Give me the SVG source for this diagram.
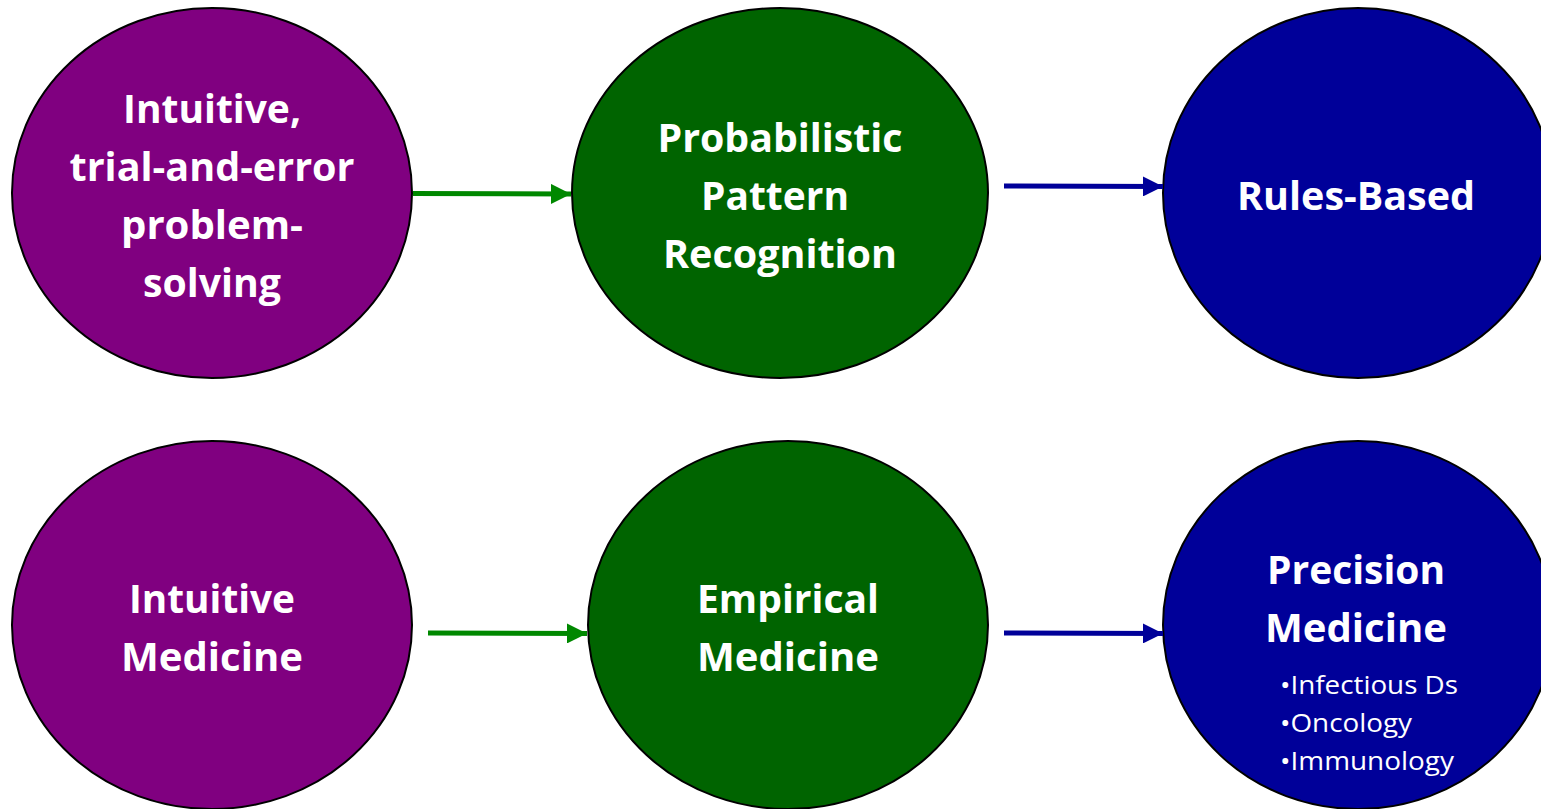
<svg xmlns="http://www.w3.org/2000/svg" width="1541" height="809" viewBox="0 0 1541 809">
<defs>
<style>
.node{stroke:#000;stroke-width:2}
.p{fill:#800080}.g{fill:#006400}.b{fill:#000099}
.t{font-family:"Open Sans","Liberation Sans",sans-serif;font-weight:bold;font-size:40px;fill:#fff;text-anchor:middle}
.s{font-family:"Open Sans","Liberation Sans",sans-serif;font-size:25px;fill:#fff}
.ga{stroke:#008800;stroke-width:5;fill:none}
.ba{stroke:#000099;stroke-width:5;fill:none}
</style>
<marker id="mg" markerWidth="6" markerHeight="6" refX="6" refY="3" orient="auto" markerUnits="userSpaceOnUse" viewBox="0 0 6 6"><path d="M0,0 L6,3 L0,6 Z" fill="#008800"/></marker>
<marker id="mb" markerWidth="6" markerHeight="6" refX="6" refY="3" orient="auto" viewBox="0 0 6 6"><path d="M0,0 L6,3 L0,6 Z" fill="#000099"/></marker>
<marker id="mg2" markerWidth="4" markerHeight="4" refX="4" refY="2" orient="auto" viewBox="0 0 4 4"><path d="M0,0 L4,2 L0,4 Z" fill="#008800"/></marker>
<marker id="mb2" markerWidth="4" markerHeight="4" refX="4" refY="2" orient="auto" viewBox="0 0 4 4"><path d="M0,0 L4,2 L0,4 Z" fill="#000099"/></marker>
</defs>
<rect width="1541" height="809" fill="#fff"/>
<g id="n1"><ellipse class="node p" cx="212" cy="193" rx="200" ry="185"/>
<text class="t"><tspan x="212" y="123" textLength="178" lengthAdjust="spacingAndGlyphs">Intuitive,</tspan><tspan x="212" y="181" textLength="285" lengthAdjust="spacingAndGlyphs">trial-and-error</tspan><tspan x="212" y="239" textLength="182" lengthAdjust="spacingAndGlyphs">problem-</tspan><tspan x="212" y="297" textLength="138" lengthAdjust="spacingAndGlyphs">solving</tspan></text></g>
<g id="n2"><ellipse class="node g" cx="780" cy="193" rx="208" ry="185"/>
<text class="t"><tspan x="780" y="152" textLength="245" lengthAdjust="spacingAndGlyphs">Probabilistic</tspan><tspan x="775" y="210" textLength="148" lengthAdjust="spacingAndGlyphs">Pattern</tspan><tspan x="780" y="268" textLength="234" lengthAdjust="spacingAndGlyphs">Recognition</tspan></text></g>
<g id="n3"><ellipse class="node b" cx="1358" cy="193" rx="195" ry="185"/>
<text class="t"><tspan x="1356" y="210" textLength="238" lengthAdjust="spacingAndGlyphs">Rules-Based</tspan></text></g>
<g id="n4"><ellipse class="node p" cx="212" cy="625" rx="200" ry="184"/>
<text class="t"><tspan x="212" y="613" textLength="166" lengthAdjust="spacingAndGlyphs">Intuitive</tspan><tspan x="212" y="671" textLength="182" lengthAdjust="spacingAndGlyphs">Medicine</tspan></text></g>
<g id="n5"><ellipse class="node g" cx="788" cy="625" rx="200" ry="184"/>
<text class="t"><tspan x="788" y="613" textLength="182" lengthAdjust="spacingAndGlyphs">Empirical</tspan><tspan x="788" y="671" textLength="182" lengthAdjust="spacingAndGlyphs">Medicine</tspan></text></g>
<g id="n6"><ellipse class="node b" cx="1358" cy="625" rx="195" ry="184"/>
<text class="t"><tspan x="1356" y="584" textLength="178" lengthAdjust="spacingAndGlyphs">Precision</tspan><tspan x="1356" y="642" textLength="182" lengthAdjust="spacingAndGlyphs">Medicine</tspan></text>
<text class="s"><tspan x="1280" y="694" textLength="178" lengthAdjust="spacingAndGlyphs">•Infectious Ds</tspan><tspan x="1280" y="732" textLength="132" lengthAdjust="spacingAndGlyphs">•Oncology</tspan><tspan x="1280" y="770" textLength="174" lengthAdjust="spacingAndGlyphs">•Immunology</tspan></text></g>
<g id="connectors">
<line class="ga" x1="413" y1="193.5" x2="571" y2="194" marker-end="url(#mg2)"/>
<line class="ba" x1="1004" y1="186" x2="1163" y2="186.5" marker-end="url(#mb2)"/>
<line class="ga" x1="428" y1="633" x2="587" y2="633.5" marker-end="url(#mg2)"/>
<line class="ba" x1="1004" y1="633" x2="1163" y2="633.5" marker-end="url(#mb2)"/>
</g>
</svg>
